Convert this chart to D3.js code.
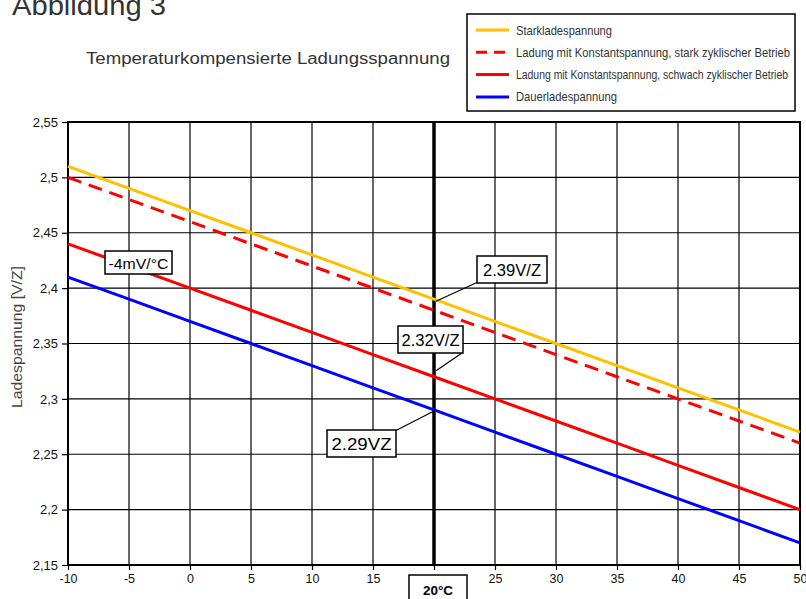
<!DOCTYPE html>
<html><head><meta charset="utf-8">
<script src="https://cdn.jsdelivr.net/npm/d3@7"></script>
<style>body{margin:0;background:#fff;}svg{display:block;}</style>
</head><body>
<svg id="c" width="806" height="599"></svg>
<script>
const temps = [-10,-5,0,5,10,15,20,25,30,35,40,45,50];
const seriesNames = ["Starkladespannung","Ladung mit Konstantspannung, stark zyklischer Betrieb","Ladung mit Konstantspannung, schwach zyklischer Betrieb","Dauerladespannung"];
const starkVals   = [2.51,2.49,2.47,2.45,2.43,2.41,2.39,2.37,2.35,2.33,2.31,2.29,2.27];
const zyklStark   = [2.50,2.48,2.46,2.44,2.42,2.40,2.38,2.36,2.34,2.32,2.30,2.28,2.26];
const zyklSchwach = [2.44,2.42,2.40,2.38,2.36,2.34,2.32,2.30,2.28,2.26,2.24,2.22,2.20];
const dauerVals   = [2.41,2.39,2.37,2.35,2.33,2.31,2.29,2.27,2.25,2.23,2.21,2.19,2.17];
const xTicks = [-10,-5,0,5,10,15,20,25,30,35,40,45,50];
const xTickLabels = ["-10","-5","0","5","10","15","","25","30","35","40","45","50"];
const yTicks = [2.15,2.2,2.25,2.3,2.35,2.4,2.45,2.5,2.55];
const yTickLabels = ["2,15","2,2","2,25","2,3","2,35","2,4","2,45","2,5","2,55"];

const colors = ["#FFC000","#FF0000","#FF0000","#0000FF"];
const dashes = [null,"14,8",null,null];
const allVals = [starkVals,zyklStark,zyklSchwach,dauerVals];

const svg = d3.select("#c");
const L=68,R=800,T=122,B=565;
const x = d3.scaleLinear().domain([-10,50]).range([L,R]);
const y = d3.scaleLinear().domain([2.15,2.55]).range([B,T]);
const F = "'Liberation Sans', Arial, sans-serif";

svg.append("text").attr("x",12).attr("y",15).attr("font-family",F).attr("font-size",27).attr("fill","#333")
  .attr("textLength",154).attr("lengthAdjust","spacingAndGlyphs").text("Abbildung 3");
svg.append("text").attr("x",86).attr("y",64).attr("font-family",F).attr("font-size",16).attr("fill","#333")
  .attr("textLength",364).attr("lengthAdjust","spacingAndGlyphs").text("Temperaturkompensierte Ladungsspannung");

// grid
svg.append("g").selectAll("line").data(yTicks).join("line")
  .attr("x1",L).attr("x2",R).attr("y1",d=>y(d)).attr("y2",d=>y(d)).attr("stroke","#000").attr("stroke-width",1.2);
svg.append("g").selectAll("line").data(xTicks).join("line")
  .attr("x1",d=>x(d)).attr("x2",d=>x(d)).attr("y1",T).attr("y2",B).attr("stroke","#000").attr("stroke-width",d=>d===20?3.5:1.2);

// axes
const yAxis = d3.axisLeft(y).tickValues(yTicks).tickFormat((d,i)=>yTickLabels[i]).tickSize(6).tickPadding(4);
const gy = svg.append("g").attr("transform",`translate(${L},0)`).call(yAxis);
gy.select(".domain").remove();
gy.selectAll("line").attr("stroke","#000").attr("stroke-width",1.2);
gy.selectAll("text").attr("font-family",F).attr("font-size",13).attr("fill","#111");

const xAxis = d3.axisBottom(x).tickValues(xTicks).tickFormat((d,i)=>xTickLabels[i]).tickSize(5).tickPadding(4);
const gx = svg.append("g").attr("transform",`translate(0,${B})`).call(xAxis);
gx.select(".domain").remove();
gx.selectAll("line").attr("stroke","#000").attr("stroke-width",1.2);
gx.selectAll("text").attr("font-family",F).attr("font-size",12.5).attr("fill","#111");

// plot border
svg.append("rect").attr("x",L).attr("y",T).attr("width",R-L).attr("height",B-T).attr("fill","none").attr("stroke","#000").attr("stroke-width",2);

// y title
svg.append("text").attr("transform",`translate(22,337) rotate(-90)`).attr("text-anchor","middle")
  .attr("font-family",F).attr("font-size",14.5).attr("fill","#444")
  .attr("textLength",142).attr("lengthAdjust","spacingAndGlyphs").text("Ladespannung [V/Z]");

// lines
const line = d3.line().x((d,i)=>x(temps[i])).y(d=>y(d));
svg.append("g").selectAll("path").data(allVals).join("path")
  .attr("d",d=>line(d)).attr("fill","none").attr("stroke",(d,i)=>colors[i]).attr("stroke-width",3)
  .attr("stroke-dasharray",(d,i)=>dashes[i]);

// annotations
function box(x0,y0,w,h,txt,size,tl,bold){
  svg.append("rect").attr("x",x0).attr("y",y0).attr("width",w).attr("height",h).attr("fill","#fff").attr("stroke","#000").attr("stroke-width",1.5);
  svg.append("text").attr("x",x0+w/2).attr("y",y0+h/2+1).attr("text-anchor","middle").attr("dominant-baseline","central")
    .attr("font-family",F).attr("font-size",size).attr("font-weight",bold?"bold":"normal").attr("fill","#000")
    .attr("textLength",tl).attr("lengthAdjust","spacingAndGlyphs").text(txt);
}
function leader(x1,y1,x2,y2){svg.append("line").attr("x1",x1).attr("y1",y1).attr("x2",x2).attr("y2",y2).attr("stroke","#000").attr("stroke-width",1.2);}
leader(x(20)+2,y(2.39)+2,478,282);
leader(x(20)+2,y(2.32)-6,462,353);
leader(x(20)+2,y(2.29),395,431);
box(477,256,70,27,"2.39V/Z",16,58);
box(398,326,65,27,"2.32V/Z",16,58);
box(327,430,69,27,"2.29VZ",16,60);
box(105,251,67,23,"-4mV/°C",15,60);
box(409,575,58,30,"20°C",12,30,true);

// legend
svg.append("rect").attr("x",467).attr("y",14).attr("width",328).attr("height",97).attr("fill","#fff").attr("stroke","#000").attr("stroke-width",1.5);
const legLens = [96,274,272,101];
const lg = svg.append("g").selectAll("g").data(seriesNames).join("g").attr("transform",(d,i)=>`translate(476,${30+i*22.3})`);
lg.append("line").attr("x1",0).attr("x2",33).attr("stroke",(d,i)=>colors[i]).attr("stroke-width",3).attr("stroke-dasharray",(d,i)=>dashes[i]?"11,7":null);
lg.append("text").attr("x",40).attr("dy","0.35em").attr("font-family",F).attr("font-size",13).attr("fill","#333")
  .attr("textLength",(d,i)=>legLens[i]).attr("lengthAdjust","spacingAndGlyphs").text(d=>d);
</script>
</body></html>
